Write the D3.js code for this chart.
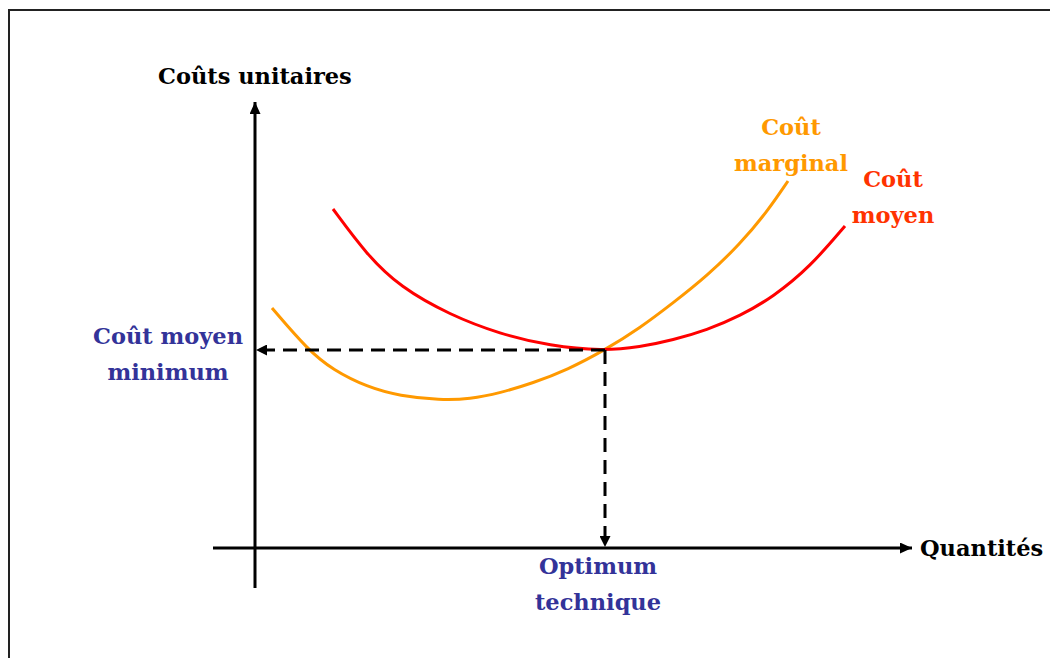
<!DOCTYPE html>
<html>
<head>
<meta charset="utf-8">
<script src="https://cdn.jsdelivr.net/npm/d3@7"></script>
<style>
  body { margin: 0; background: #fff; }
  svg { display: block; }
  text { font-family: "DejaVu Serif", serif; font-weight: bold; font-size: 22.5px; }
</style>
</head>
<body>
<svg class="chart" width="1050" height="658"></svg>
<script>
// quantities (x) and unit costs (y)
var moyenQ = [1.56, 2.24, 2.9, 3.9, 4.9, 5.9, 6.96, 7.7, 8.36, 9.04, 9.7, 10.36, 11.1, 11.8];
var moyenC = [6.78, 5.86, 5.22, 4.66, 4.28, 4.04, 3.94, 4.02, 4.16, 4.36, 4.64, 5.02, 5.62, 6.44];
var marginalQ = [0.34, 1.06, 1.56, 2.24, 2.9, 3.7, 4.3, 4.9, 5.56, 6.24, 7.0, 7.7, 8.36, 9.04, 9.7, 10.24, 10.66];
var marginalC = [4.8, 3.96, 3.56, 3.22, 3.04, 2.96, 2.98, 3.1, 3.3, 3.56, 3.96, 4.4, 4.9, 5.44, 6.08, 6.72, 7.34];
var optimum = [7.0, 3.96];
var axisX = [-0.84, 13.14];
var axisY = [-0.8, 8.92];
var titleY = "Coûts unitaires", titleX = "Quantités";
var labelMarginal = ["Coût", "marginal"], labelMoyen = ["Coût", "moyen"];
var labelMin = ["Coût moyen", "minimum"], labelOpt = ["Optimum", "technique"];

var svg = d3.select("svg.chart"),
    x = d3.scaleLinear().domain([0, 13]).range([255, 905]),
    y = d3.scaleLinear().domain([0, 9]).range([548, 98]);

// frame
svg.append("path").attr("d", "M9,658V10H1050").attr("fill", "none").attr("stroke", "#222").attr("stroke-width", 2);

var defs = svg.append("defs");
function marker(id, len, wid) {
  defs.append("marker").attr("id", id)
    .attr("markerUnits", "userSpaceOnUse")
    .attr("viewBox", "0 0 " + len + " " + wid)
    .attr("refX", len).attr("refY", wid / 2)
    .attr("markerWidth", len).attr("markerHeight", wid)
    .attr("orient", "auto")
    .append("path").attr("d", "M0,0L" + len + "," + (wid / 2) + "L0," + wid + "Z").attr("fill", "#000");
}
marker("axisArrow", 12, 11);
marker("dashArrow", 11, 11);

// axes
svg.append("line")
  .attr("x1", x(axisX[0])).attr("x2", x(axisX[1])).attr("y1", y(0)).attr("y2", y(0))
  .attr("stroke", "#000").attr("stroke-width", 3).attr("marker-end", "url(#axisArrow)");
svg.append("line")
  .attr("x1", x(0)).attr("x2", x(0)).attr("y1", y(axisY[0])).attr("y2", y(axisY[1]))
  .attr("stroke", "#000").attr("stroke-width", 3).attr("marker-end", "url(#axisArrow)");

// curves
var line = d3.line().x(function(d) { return x(d[0]); }).y(function(d) { return y(d[1]); })
  .curve(d3.curveBasis);

svg.append("path").datum(d3.zip(marginalQ, marginalC))
  .attr("d", line).attr("fill", "none").attr("stroke", "#ff9900").attr("stroke-width", 3);
svg.append("path").datum(d3.zip(moyenQ, moyenC))
  .attr("d", line).attr("fill", "none").attr("stroke", "#ff0000").attr("stroke-width", 3);

// dashed guides to the axes
svg.append("line")
  .attr("x1", x(optimum[0])).attr("y1", y(optimum[1])).attr("x2", x(0) + 1).attr("y2", y(optimum[1]))
  .attr("stroke", "#000").attr("stroke-width", 3).attr("stroke-dasharray", "14,8")
  .attr("marker-end", "url(#dashArrow)");
svg.append("line")
  .attr("x1", x(optimum[0])).attr("y1", y(optimum[1])).attr("x2", x(optimum[0])).attr("y2", y(0) - 1)
  .attr("stroke", "#000").attr("stroke-width", 3).attr("stroke-dasharray", "14,8")
  .attr("marker-end", "url(#dashArrow)");

// texts
function lines(list, cx, y0, color) {
  svg.append("text").attr("text-anchor", "middle").attr("fill", color)
    .selectAll("tspan").data(list).enter().append("tspan")
    .attr("x", cx).attr("y", function(d, i) { return y0 + i * 36; })
    .text(function(d) { return d; });
}
svg.append("text").attr("x", 158).attr("y", 84).attr("fill", "#000").text(titleY);
svg.append("text").attr("x", 920).attr("y", 556).attr("fill", "#000").text(titleX);
lines(labelMarginal, 791, 135, "#ff9900");
lines(labelMoyen, 893, 187, "#ff3300");
lines(labelMin, 168, 344, "#333399");
lines(labelOpt, 598, 574, "#333399");
</script>
</body>
</html>
